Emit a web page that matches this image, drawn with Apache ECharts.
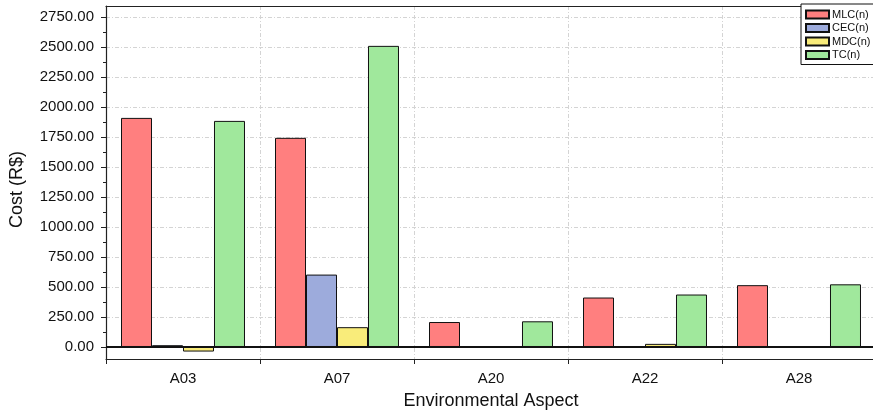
<!DOCTYPE html>
<html>
<head>
<meta charset="utf-8">
<script src="https://cdn.jsdelivr.net/npm/echarts@6/dist/echarts.min.js"></script>
<style>html,body{margin:0;padding:0;background:#fff;}#c{width:873px;height:415px;}</style>
</head>
<body>
<div id="c"></div>
<script>
const categories = ['A03', 'A07', 'A20', 'A22', 'A28'];
const seriesNames = ['MLC(n)', 'CEC(n)', 'MDC(n)', 'TC(n)'];
const mlc = [1908, 1742, 208, 412, 515];
const cec = [15, 603, 0, 4, 5];
const mdc = [-38, 165, 8, 26, 0];
const tc = [1883, 2508, 214, 437, 522];
const yTicks = [0, 250, 500, 750, 1000, 1250, 1500, 1750, 2000, 2250, 2500, 2750];
const yMinorTicks = [125, 375, 625, 875, 1125, 1375, 1625, 1875, 2125, 2375, 2625];

const colors = ['#FF7F7F', '#9DABDC', '#F9EC7A', '#A0E89C'];
const font = 'Liberation Sans, Arial, sans-serif';
const chart = echarts.init(document.getElementById('c'));
const seriesData = [mlc, cec, mdc, tc];
const series = seriesData.map((d, i) => ({
  name: seriesNames[i],
  type: 'bar',
  xAxisIndex: 0,
  yAxisIndex: 0,
  data: d,
  barGap: '0%',
  barCategoryGap: '19.5%',
  itemStyle: { color: colors[i], borderColor: '#111', borderWidth: 1 },
  emphasis: { disabled: true }
}));
series[3].markLine = {
  silent: true,
  symbol: 'none',
  label: { show: false },
  lineStyle: { color: '#111', width: 1.8, type: 'solid' },
  data: [{ yAxis: 0 }]
};

chart.setOption({
  animation: false,
  backgroundColor: '#fff',
  grid: { left: 106, top: 6, width: 770, height: 353, show: false, outerBoundsMode: 'none', containLabel: false },
  legend: {
    orient: 'vertical',
    left: 801,
    top: 4,
    padding: [5, 4, 4, 4],
    itemWidth: 23,
    itemHeight: 8,
    itemGap: 2.5,
    icon: 'rect',
    backgroundColor: '#fff',
    borderColor: '#111',
    borderWidth: 1,
    textStyle: { fontFamily: font, fontSize: 11, color: '#111', padding: [0, 0, 0, -2] },
    data: seriesNames
  },
  xAxis: [
    {
      type: 'category',
      data: categories,
      position: 'bottom',
      name: 'Environmental Aspect',
      nameLocation: 'middle',
      nameGap: 33,
      nameTextStyle: { fontFamily: font, fontSize: 18, color: '#111' },
      axisLine: { onZero: false, lineStyle: { color: '#222', width: 1.2 } },
      axisTick: { alignWithLabel: true, length: 5, lineStyle: { color: '#222' } },
      axisLabel: { fontFamily: font, fontSize: 15, color: '#111', margin: 12 },
      splitLine: { show: true, lineStyle: { color: '#d4d4d4', type: [4, 2, 1, 2], width: 1 } }
    },
    {
      type: 'category',
      data: categories,
      position: 'bottom',
      axisLine: { show: false, onZero: false },
      axisTick: { show: true, length: 5, lineStyle: { color: '#222' } },
      axisLabel: { show: false },
      splitLine: { show: false }
    },
    {
      type: 'category',
      data: categories,
      position: 'top',
      axisLine: { show: true, onZero: false, lineStyle: { color: '#222', width: 1.2 } },
      axisTick: { show: false },
      axisLabel: { show: false },
      splitLine: { show: false }
    }
  ],
  yAxis: [
    {
      type: 'value',
      min: -100,
      max: 2840,
      name: 'Cost (R$)',
      nameLocation: 'middle',
      nameGap: 80,
      nameTextStyle: { fontFamily: font, fontSize: 18, color: '#111', padding: [0, 14, 0, 0] },
      axisLine: { show: true, lineStyle: { color: '#222', width: 1.2 } },
      axisTick: { show: true, length: 5, customValues: yTicks, lineStyle: { color: '#222' } },
      axisLabel: { fontFamily: font, fontSize: 15, color: '#111', margin: 12, customValues: yTicks,
        formatter: v => Number(v).toFixed(2) },
      splitLine: { show: true, lineStyle: { color: '#d4d4d4', type: [4, 2, 1, 2], width: 1 } }
    },
    {
      type: 'value',
      min: -100,
      max: 2840,
      position: 'left',
      axisLine: { show: false },
      axisTick: { show: true, length: 3, customValues: yMinorTicks, lineStyle: { color: '#222' } },
      axisLabel: { show: false },
      splitLine: { show: false }
    }
  ],
  series: series
});
</script>
</body>
</html>
